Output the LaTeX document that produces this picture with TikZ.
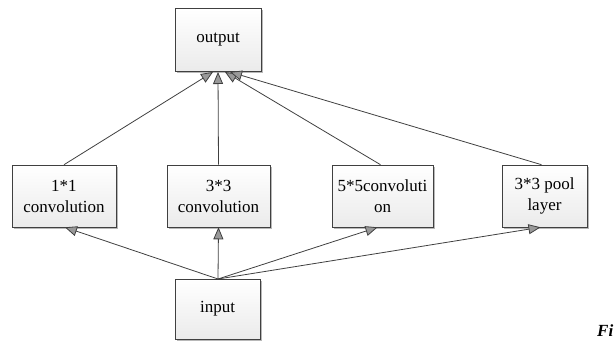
\documentclass[tikz,border=0pt]{standalone}
\usepackage{fontspec}
\setmainfont{Liberation Serif}
\usetikzlibrary{arrows.meta,shadows}
\begin{document}
\begin{tikzpicture}[x=1pt,y=-1pt,
  blk/.style={draw=black!75, line width=0.6pt, top color=white, bottom color=black!8,
    drop shadow={shadow xshift=2pt, shadow yshift=-2pt, fill=black!35, opacity=0.8},
    align=center, font=\fontsize{17}{21}\selectfont, inner sep=0pt},
  conn/.style={draw=black!75, line width=0.8pt, -{Triangle[length=12pt,width=10pt,fill=black!40]}}]
\useasboundingbox (0,0) rectangle (614,342);
\node[blk, minimum width=86pt, minimum height=63pt] (out) at (218,40) {output};
\node[blk, minimum width=104pt, minimum height=62pt] (c1) at (64,196) {1*1\\convolution};
\node[blk, minimum width=103pt, minimum height=62pt] (c3) at (218.5,196) {3*3\\convolution};
\node[blk, minimum width=101pt, minimum height=62pt] (c5) at (382.5,196) {5*5convoluti\\on};
\node[blk, minimum width=85pt, minimum height=62pt] (pl) at (544.5,196) {3*3 pool\\layer};
\node[blk, minimum width=85pt, minimum height=60pt] (in) at (217.5,309) {input};
\node[font=\fontsize{17}{18}\selectfont\bfseries\itshape, anchor=west, inner sep=0pt] (fig) at (597,331) {Fi};
\coordinate (o1) at (213,72);
\coordinate (o3) at (218,72);
\coordinate (o5) at (225,72);
\coordinate (op) at (230,72);
\coordinate (i0) at (218,279);
\draw[conn] (c1.north) -- (o1);
\draw[conn] (c3.north) -- (o3);
\draw[conn] ([xshift=-2pt]c5.north) -- (o5);
\draw[conn] ([xshift=-3pt]pl.north) -- (op);
\draw[conn] (i0) -- ([xshift=1pt]c1.south);
\draw[conn] (i0) -- (c3.south);
\draw[conn] (i0) -- ([xshift=-5pt]c5.south);
\draw[conn] (i0) -- ([xshift=-4pt]pl.south);
\end{tikzpicture}
\end{document}
